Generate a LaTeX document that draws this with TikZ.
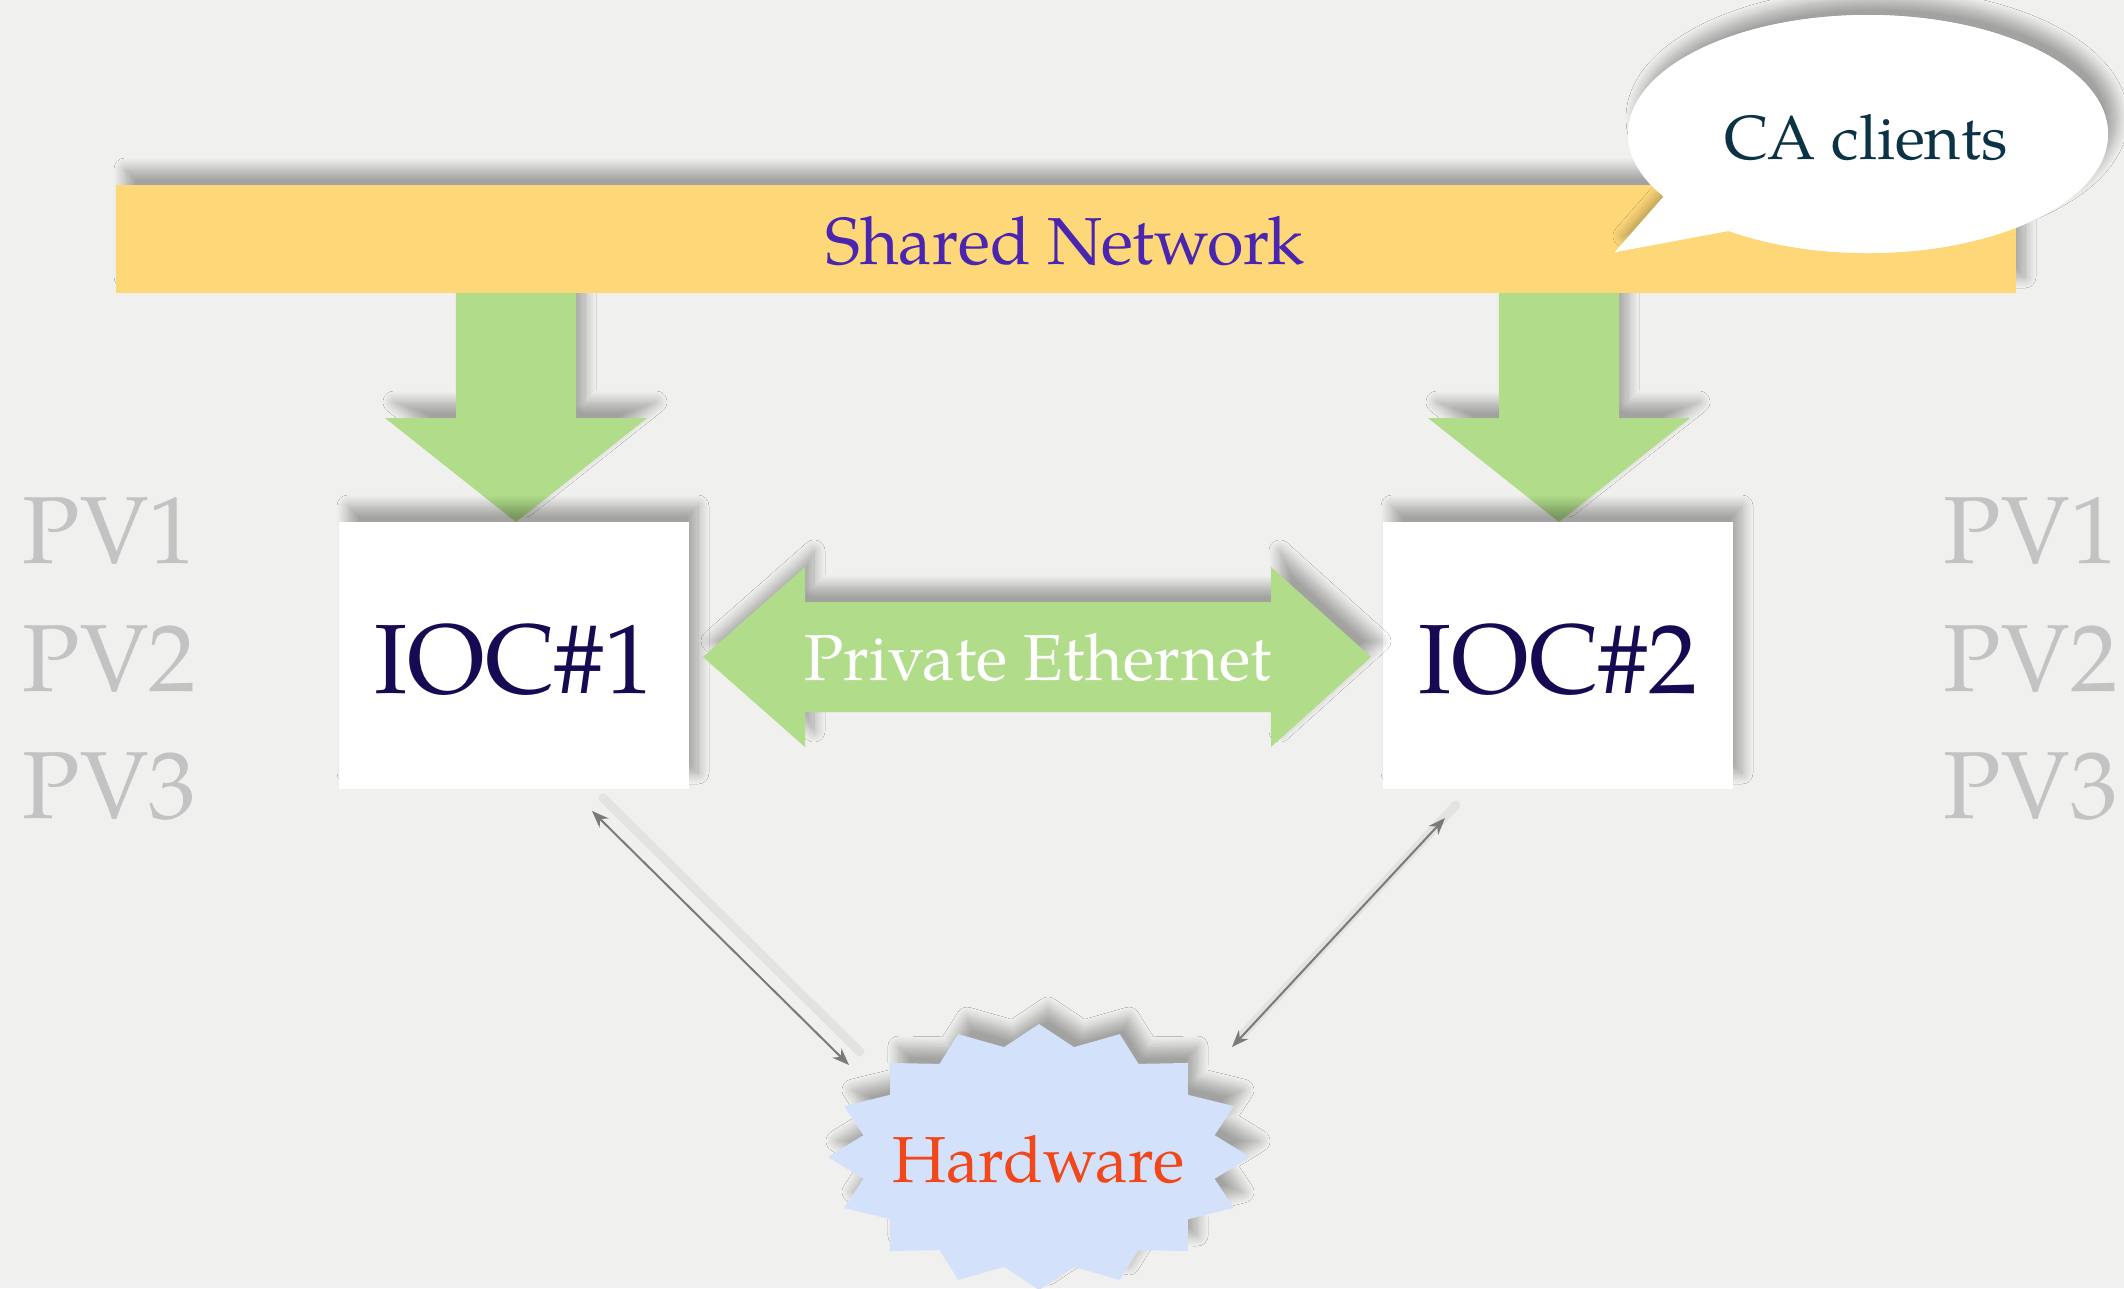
\documentclass[tikz,border=0pt]{standalone}
\usepackage{fontspec}
\setmainfont{texgyrepagella}[Extension=.otf, UprightFont=*-regular, BoldFont=*-bold, ItalicFont=*-italic, BoldItalicFont=*-bolditalic]
\usetikzlibrary{shadows.blur, arrows.meta}

\definecolor{paper}{HTML}{F0F0EE}
\definecolor{netyellow}{HTML}{FDD778}
\definecolor{linkgreen}{HTML}{B1DD8B}
\definecolor{netpurple}{HTML}{4A25B0}
\definecolor{clientteal}{HTML}{0B3345}
\definecolor{iocnavy}{HTML}{170A52}
\definecolor{pvgray}{HTML}{C3C3C3}
\definecolor{hwblue}{HTML}{D3E2FA}
\definecolor{hwred}{HTML}{F2461B}
\definecolor{wiregray}{HTML}{7A7A7A}

\begin{document}
\begin{tikzpicture}[x=0.1mm, y=-0.1mm,
  softshadow/.style={blur shadow={shadow xshift=0.9mm, shadow yshift=1.6mm,
      shadow blur radius=1.1mm, shadow blur steps=12, shadow opacity=32}},
  label/.style={inner sep=0pt, anchor=base},
  pvlabel/.style={label, anchor=base west, text=pvgray, font=\fontsize{27.1pt}{30pt}\selectfont},
  iocbox/.style={rectangle, fill=white, draw=none, softshadow, inner sep=0pt,
      minimum width=35mm, minimum height=26.7mm, text height=7.5mm, text depth=0pt,
      text=iocnavy, font=\fontsize{28pt}{30pt}\selectfont},
  wire/.style={draw=wiregray, line width=0.2mm,
      {Stealth[length=1.7mm, width=1.3mm]}-{Stealth[length=1.7mm, width=1.3mm]}},
  wireshade/.style={draw=black, opacity=0.05, line width=0.9mm, line cap=round},
]
% paper background and picture frame
\fill[paper] (0,0) rectangle (2124,1288);
\useasboundingbox (0,0) rectangle (2124,1288);

% process variable lists at both sides
\node[pvlabel] (pvl1) at (22,563) {PV1};
\node[pvlabel] (pvl2) at (22,691) {PV2};
\node[pvlabel] (pvl3) at (22,818) {PV3};
\node[pvlabel] (pvr1) at (1943,563) {PV1};
\node[pvlabel] (pvr2) at (1943,691) {PV2};
\node[pvlabel] (pvr3) at (1943,818) {PV3};

% block arrows from the shared network down to each IOC
\foreach \cx in {516,1559}{
  \fill[linkgreen, softshadow]
    ({\cx-60},293) -- ({\cx+60},293) -- ({\cx+60},418) -- ({\cx+131},418)
    -- (\cx,522) -- ({\cx-131},418) -- ({\cx-60},418) -- cycle;
}

% the two IOCs
\node[iocbox] (ioc1) at (514,655.5) {IOC\#1};
\node[iocbox] (ioc2) at (1558,655.5) {IOC\#2};

% shared network bar
\node[rectangle, fill=netyellow, softshadow, inner sep=0pt,
      minimum width=190mm, minimum height=10.8mm] (net) at (1066,239) {};
\node[label, text=netpurple, font=\fontsize{18.9pt}{20pt}\selectfont]
  (nettext) at (1065,264) {Shared Network};

% speech bubble for the CA clients: shadow first, then the white body
\fill[white, softshadow]
  (1868,134) ellipse [x radius=24mm, y radius=11.9mm]
  (1615,252) -- (1680,178) -- (1760,225) -- cycle;
\fill[white] (1868,134) ellipse [x radius=24mm, y radius=11.9mm];
\fill[white] (1615,252) -- (1680,178) -- (1760,225) -- cycle;
\node[label, text=clientteal, font=\fontsize{17.7pt}{19pt}\selectfont]
  (ca) at (1866,159) {CA clients};

% private ethernet double arrow between the IOCs
\fill[linkgreen, softshadow]
  (703,657) -- (805,567) -- (805,602) -- (1271,602) -- (1271,567)
  -- (1371,657) -- (1271,747) -- (1271,712) -- (805,712) -- (805,747) -- cycle;
\node[label, text=white, font=\fontsize{18.5pt}{20pt}\selectfont]
  (priv) at (1038,680) {Private Ethernet};

% hardware starburst
\fill[hwblue, softshadow] (1039,1024)
  \foreach \k in {0,...,15}{
    -- ({1039+179*sin(\k*22.5+11.25)},{1157-112*cos(\k*22.5+11.25)})
    -- ({1039+211*sin(\k*22.5+22.5)},{1157-133*cos(\k*22.5+22.5)})
  } -- cycle;
\node[label, text=hwred, font=\fontsize{18.5pt}{20pt}\selectfont]
  (hw) at (1038.5,1182) {Hardware};

% links between the IOCs and the hardware
\coordinate (ioc1port) at (592,811);
\coordinate (ioc2port) at (1445,818);
\coordinate (hwport1) at (849,1065);
\coordinate (hwport2) at (1232,1047);
\draw[wireshade] ([xshift=1.1mm,yshift=1.3mm]ioc1port) -- ([xshift=1.1mm,yshift=1.3mm]hwport1);
\draw[wireshade] ([xshift=1.1mm,yshift=1.3mm]ioc2port) -- ([xshift=1.1mm,yshift=1.3mm]hwport2);
\draw[wire] (ioc1port) -- (hwport1);
\draw[wire] (ioc2port) -- (hwport2);
\end{tikzpicture}
\end{document}
